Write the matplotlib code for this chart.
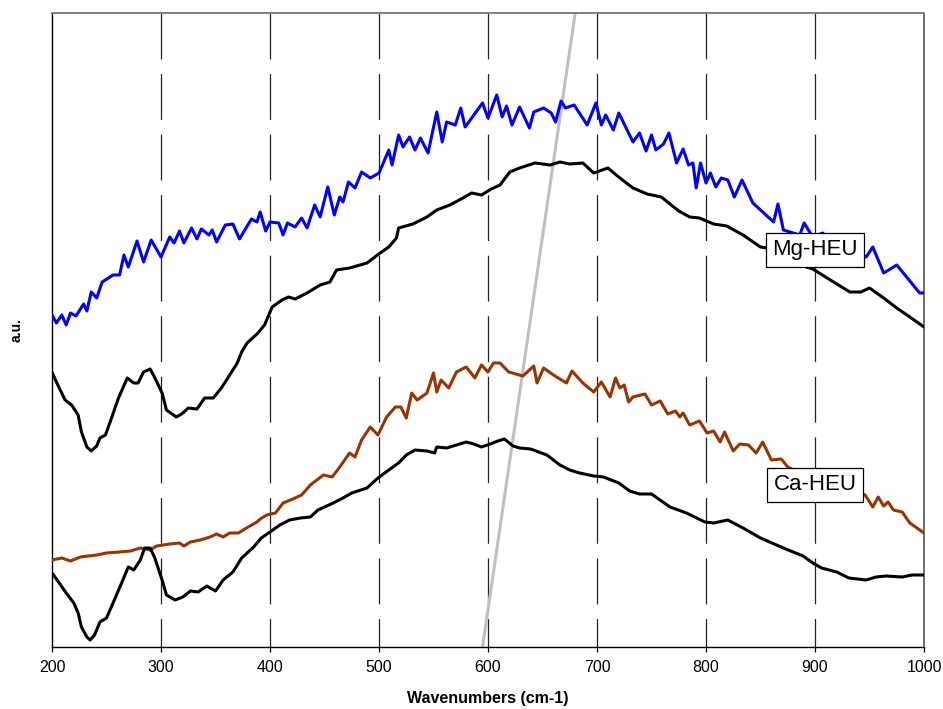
import matplotlib
matplotlib.use("Agg")
import matplotlib.pyplot as plt
import numpy as np

plt.rcParams['font.family'] = ['Liberation Sans', 'DejaVu Sans']
plt.rcParams['lines.scale_dashes'] = False

# ---- data (arbitrary units) ----
mg_blue_x = [200, 204, 209, 213, 217, 222, 229, 232, 236, 241, 246, 256, 262, 266, 270, 278, 284, 291,
             300, 308, 312, 317, 321, 328, 333, 337, 344, 347, 351, 359, 366, 372, 383, 388, 391, 396,
             400, 408, 412, 416, 423, 429, 434, 441, 446, 453, 459, 464, 467, 472, 478, 484, 492, 500,
             509, 512, 518, 522, 528, 533, 538, 545, 553, 558, 562, 570, 575, 579, 587, 595, 600, 608,
             613, 617, 622, 629, 638, 642, 651, 658, 662, 667, 671, 679, 691, 699, 704, 708, 715, 720,
             733, 739, 745, 750, 754, 761, 766, 773, 779, 784, 788, 791, 795, 800, 804, 809, 814, 820,
             826, 833, 843, 853, 862, 866, 871, 880, 886, 890, 898, 907, 918, 930, 940, 947, 953, 963,
             975, 984, 996, 1000]
mg_blue_y = [332, 324, 332, 322, 334, 331, 343, 336, 355, 349, 365, 372, 372, 392, 380, 406, 385, 407,
             390, 410, 404, 416, 404, 419, 408, 418, 412, 417, 405, 422, 423, 408, 428, 425, 435, 416,
             425, 424, 412, 424, 420, 429, 419, 442, 430, 460, 432, 450, 445, 465, 459, 475, 469, 474,
             497, 482, 512, 500, 510, 497, 509, 494, 535, 505, 525, 522, 539, 520, 532, 544, 529, 552,
             530, 541, 522, 540, 519, 535, 539, 534, 525, 546, 539, 542, 522, 544, 522, 532, 517, 534,
             505, 514, 496, 512, 497, 503, 514, 484, 498, 482, 484, 459, 484, 464, 474, 460, 469, 467,
             450, 467, 444, 434, 425, 443, 417, 414, 412, 424, 410, 414, 402, 405, 394, 390, 400, 374,
             382, 370, 354, 354]

mg_black_x = [200, 204, 212, 218, 224, 227, 232, 236, 241, 244, 249, 253, 261, 269, 275, 279, 284, 290,
              294, 301, 305, 314, 319, 325, 333, 340, 348, 356, 363, 370, 374, 379, 389, 395, 402, 411,
              417, 423, 434, 446, 455, 461, 473, 489, 501, 509, 516, 518, 531, 544, 553, 565, 577, 585,
              594, 603, 611, 620, 629, 643, 657, 666, 675, 687, 697, 710, 721, 733, 746, 759, 775, 785,
              794, 807, 819, 834, 850, 856, 870, 884, 892, 898, 917, 932, 942, 950, 963, 975, 987, 1000]
mg_black_y = [275, 265, 247, 242, 232, 215, 200, 196, 201, 209, 212, 224, 249, 269, 264, 264, 275, 278,
              270, 254, 237, 230, 233, 239, 238, 249, 249, 260, 272, 284, 295, 304, 314, 322, 340, 347,
              350, 348, 354, 362, 365, 377, 379, 384, 394, 400, 409, 419, 423, 430, 437, 442, 449, 454,
              452, 458, 462, 475, 479, 484, 482, 485, 483, 484, 474, 479, 469, 459, 453, 450, 436, 430,
              429, 423, 421, 412, 400, 399, 392, 386, 380, 378, 365, 355, 355, 359, 349, 339, 330, 320]

ca_brown_x = [200, 209, 217, 226, 241, 250, 262, 272, 281, 290, 296, 308, 317, 321, 327, 336, 345, 351,
              357, 363, 371, 380, 388, 391, 397, 405, 412, 421, 429, 437, 449, 457, 464, 473, 478, 484,
              492, 499, 507, 515, 520, 525, 530, 535, 544, 550, 553, 557, 564, 571, 580, 588, 594, 600,
              605, 611, 619, 632, 642, 645, 651, 660, 672, 677, 682, 687, 697, 704, 712, 717, 721, 725,
              729, 733, 744, 750, 758, 765, 772, 776, 779, 785, 794, 801, 807, 813, 817, 825, 831, 839,
              846, 852, 860, 869, 875, 890, 905, 920, 935, 946, 953, 958, 963, 967, 972, 980, 987, 1000]
ca_brown_y = [87, 89, 86, 90, 92, 94, 95, 96, 99, 97, 101, 103, 104, 101, 105, 107, 110, 113,
              110, 114, 114, 120, 125, 128, 132, 134, 144, 148, 152, 162, 172, 170, 180, 194, 190, 207,
              220, 212, 230, 240, 240, 229, 254, 247, 254, 274, 255, 267, 259, 275, 280, 269, 282, 275,
              284, 284, 275, 271, 281, 264, 279, 272, 264, 276, 270, 264, 255, 265, 250, 269, 259, 262,
              245, 250, 253, 242, 246, 233, 236, 230, 234, 222, 226, 214, 216, 205, 215, 196, 203, 202,
              194, 205, 187, 188, 180, 172, 168, 162, 157, 152, 140, 150, 141, 145, 137, 135, 124, 114]

ca_black_x = [200, 206, 213, 220, 224, 227, 232, 235, 239, 244, 250, 258, 265, 270, 275, 281, 285, 290,
              294, 301, 305, 313, 320, 327, 334, 342, 350, 357, 366, 374, 385, 392, 400, 409, 418, 428,
              437, 444, 458, 467, 475, 489, 499, 509, 518, 525, 533, 544, 551, 553, 562, 571, 580, 587,
              594, 602, 609, 615, 623, 629, 639, 654, 666, 675, 684, 697, 706, 720, 730, 739, 750, 767,
              782, 799, 807, 820, 834, 850, 871, 889, 898, 906, 920, 931, 947, 956, 965, 980, 989, 1000]
ca_black_y = [74, 65, 54, 44, 34, 20, 10, 7, 12, 25, 29, 49, 67, 80, 77, 87, 99, 99,
              90, 67, 52, 47, 50, 56, 55, 61, 56, 67, 75, 89, 100, 109, 115, 122, 127, 129,
              130, 137, 144, 149, 154, 159, 169, 177, 184, 192, 197, 196, 194, 200, 199, 202, 205, 203,
              200, 203, 206, 208, 201, 199, 198, 192, 182, 177, 174, 171, 170, 164, 156, 153, 153, 140,
              134, 125, 124, 127, 119, 109, 99, 91, 84, 79, 75, 69, 67, 70, 71, 70, 72, 72]

shift_line_x = [595, 680]
shift_line_y = [0, 634]

grid_ticks = [300, 400, 500, 600, 700, 800, 900]
x_ticks = [200, 300, 400, 500, 600, 700, 800, 900, 1000]

# ---- figure ----
fig = plt.figure(figsize=(9.43, 7.09), dpi=100)
ax = fig.add_axes([52/943, 1-647/709, (924-52)/943, (647-13)/709])
ax.set_xlim(200, 1000)
ax.set_ylim(0, 634)

ax.vlines(grid_ticks, 634, 0, colors='#222222', linewidth=0.9,
          linestyles=[(0, (33, 10.6))], zorder=1)

ax.plot(shift_line_x, shift_line_y, color='#c0c0c0', linewidth=2.2, zorder=2, solid_capstyle='butt')
kw = dict(linewidth=2.2, zorder=3, solid_joinstyle='round', solid_capstyle='round')
ax.plot(mg_blue_x, mg_blue_y, color='#0000ff', **kw)
ax.plot(mg_black_x, mg_black_y, color='black', **kw)
ax.plot(ca_brown_x, ca_brown_y, color='#993300', **kw)
ax.plot(ca_black_x, ca_black_y, color='black', **kw)

bbox = dict(boxstyle='square,pad=0.3', facecolor='white', edgecolor='black', linewidth=0.9)
ax.text(900, 397, 'Mg-HEU', fontsize=16, ha='center', va='center', bbox=bbox, zorder=5)
ax.text(900, 162, 'Ca-HEU', fontsize=16, ha='center', va='center', bbox=bbox, zorder=5)

ax.set_xticks(x_ticks)
ax.set_xticklabels([str(t) for t in x_ticks], fontsize=11.5)
ax.set_yticks([])
ax.tick_params(axis='x', direction='out', length=3.6, width=0.9, color='black', pad=6)

for side in ['left', 'bottom']:
    ax.spines[side].set_color('black')
    ax.spines[side].set_linewidth(1.0)
ax.spines['top'].set_color('#808080')
ax.spines['top'].set_linewidth(1.4)
ax.spines['right'].set_color('#555555')
ax.spines['right'].set_linewidth(1.2)

fig.text(405/943 + (570-405)/2/943, 1-698/709, 'Wavenumbers (cm-1)', fontsize=11.5, fontweight='bold',
         ha='center', va='center')
fig.text(17/943, 1-330/709, 'a.u.', fontsize=10, fontweight='bold', rotation=90, ha='center', va='center')

fig.savefig('out.png', dpi=100)
